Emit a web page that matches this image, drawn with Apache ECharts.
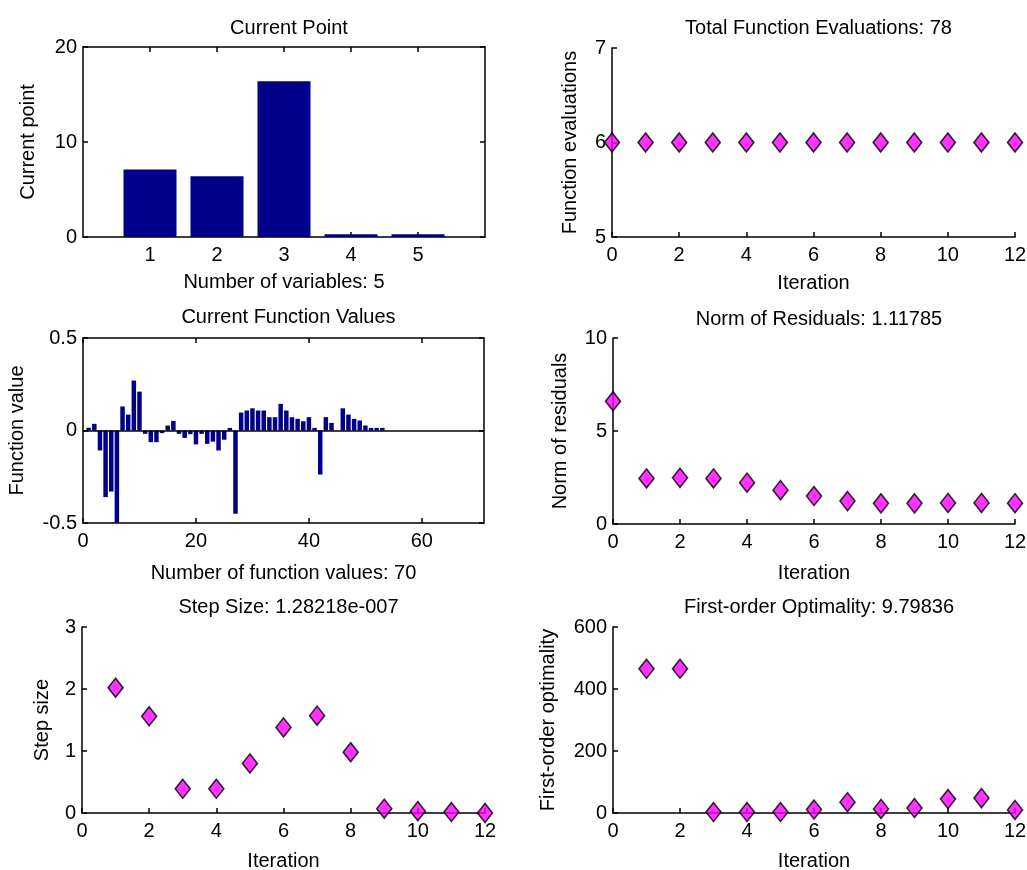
<!DOCTYPE html>
<html>
<head>
<meta charset="utf-8">
<script src="https://cdn.jsdelivr.net/npm/echarts@6/dist/echarts.min.js"></script>
<style>
html,body{margin:0;padding:0;background:#fff;}
#c{width:1027px;height:870px;}
</style>
</head>
<body>
<div id="c"></div>
<script>
// ---------- data ----------
const varIndex = [1, 2, 3, 4, 5];
const currentPoint = [7.1, 6.4, 16.4, 0.3, 0.3];

const iterAll = [0, 1, 2, 3, 4, 5, 6, 7, 8, 9, 10, 11, 12];
const funcEvals = [6, 6, 6, 6, 6, 6, 6, 6, 6, 6, 6, 6, 6];
const resNorm = [6.6, 2.45, 2.48, 2.45, 2.22, 1.82, 1.5, 1.23, 1.11, 1.11, 1.13, 1.13, 1.12];

const iterFrom1 = [1, 2, 3, 4, 5, 6, 7, 8, 9, 10, 11, 12];
const stepSize = [2.02, 1.56, 0.39, 0.39, 0.8, 1.38, 1.57, 0.98, 0.07, 0.03, 0.015, 0.0];
const firstOrderOpt = [465, 465, 3, 3, 3, 11, 35, 13, 16, 45, 48, 9.8];

const fvalues = [
  0.015, 0.036, -0.108, -0.36, -0.33, -0.5, 0.13, 0.086, 0.27, 0.21,
  -0.018, -0.063, -0.063, -0.014, 0.027, 0.052, -0.018, -0.04, -0.02, -0.075,
  -0.018, -0.072, -0.06, -0.108, -0.05, 0.014, -0.45, 0.097, 0.108, 0.12,
  0.108, 0.108, 0.072, 0.072, 0.144, 0.108, 0.072, 0.063, 0.05, 0.072,
  0.014, -0.238, 0.072, 0.041, 0, 0.12, 0.086, 0.063, 0.054, 0.027,
  0.014, 0.014, 0.014, 0, 0, 0, 0, 0, 0, 0,
  0, 0, 0, 0, 0, 0, 0, 0, 0, 0
];

const varTicks = [1, 2, 3, 4, 5];
const fvalTicks = [0, 20, 40, 60];

const titles = [
  'Current Point',
  'Total Function Evaluations: 78',
  'Current Function Values',
  'Norm of Residuals: 1.11785',
  'Step Size: 1.28218e-007',
  'First-order Optimality: 9.79836'
];
const xNames = ['Number of variables: 5', 'Iteration', 'Number of function values: 70', 'Iteration', 'Iteration', 'Iteration'];
const yNames = ['Current point', 'Function evaluations', 'Function value', 'Norm of residuals', 'Step size', 'First-order optimality'];

// ---------- layout ----------
const FONT = 'Liberation Sans, Arial, sans-serif';
const FS = 20;
const grids = [
  {left: 83, top: 47, width: 402, height: 190},
  {left: 612, top: 48, width: 403, height: 189},
  {left: 83, top: 338, width: 401, height: 185},
  {left: 613, top: 338, width: 402, height: 186},
  {left: 82, top: 627, width: 403, height: 186},
  {left: 613, top: 627, width: 402, height: 186}
];
const titleTops = [13, 13, 302, 304, 592, 592];
const yNameGaps = [45, 32, 56, 43, 30, 55];
const xNameGaps = [35, 36, 40, 39, 38, 38];

const lineBlack = {show: true, onZero: false, lineStyle: {color: '#000', width: 1.5}};
const tickIn = {show: true, inside: true, length: 5, lineStyle: {color: '#000', width: 1.5}};
const labelStyle = {color: '#000', fontFamily: FONT, fontSize: FS};

function xAxisMain(g, min, max, interval, name, custom) {
  const a = {
    type: 'value', gridIndex: g, min: min, max: max, position: 'bottom',
    name: name, nameLocation: 'middle', nameGap: xNameGaps[g],
    nameTextStyle: {color: '#000', fontFamily: FONT, fontSize: FS},
    axisLine: lineBlack, axisTick: Object.assign({}, tickIn),
    axisLabel: Object.assign({margin: 8}, labelStyle),
    splitLine: {show: false}
  };
  if (custom) {
    a.axisLabel.customValues = custom;
    a.axisTick.customValues = custom;
  } else {
    a.interval = interval;
  }
  return a;
}
function xAxisTop(g, min, max, custom) {
  return {
    type: 'value', gridIndex: g, min: min, max: max, position: 'top',
    axisLine: lineBlack, axisTick: Object.assign({customValues: custom}, tickIn),
    axisLabel: {show: false, customValues: custom}, splitLine: {show: false}
  };
}
function yAxisMain(g, min, max, interval, name) {
  return {
    type: 'value', gridIndex: g, min: min, max: max, interval: interval, position: 'left',
    name: name, nameLocation: 'middle', nameGap: yNameGaps[g], nameRotate: 90,
    nameTextStyle: {color: '#000', fontFamily: FONT, fontSize: FS},
    axisLine: lineBlack, axisTick: tickIn,
    axisLabel: Object.assign({margin: 6}, labelStyle),
    splitLine: {show: false}
  };
}
function yAxisRight(g, min, max, interval) {
  return {
    type: 'value', gridIndex: g, min: min, max: max, interval: interval, position: 'right',
    axisLine: lineBlack, axisTick: tickIn, axisLabel: {show: false}, splitLine: {show: false}
  };
}

const xAxes = [
  xAxisMain(0, 0, 6, null, xNames[0], varTicks),       // 0
  xAxisMain(1, 0, 12, 2, xNames[1]),                   // 1
  xAxisMain(2, 0, 71, null, xNames[2], fvalTicks),     // 2
  xAxisMain(3, 0, 12, 2, xNames[3]),                   // 3
  xAxisMain(4, 0, 12, 2, xNames[4]),                   // 4
  xAxisMain(5, 0, 12, 2, xNames[5]),                   // 5
  xAxisTop(0, 0, 6, varTicks),                         // 6
  xAxisTop(2, 0, 71, fvalTicks)                        // 7
];
const yAxes = [
  yAxisMain(0, 0, 20, 10, yNames[0]),
  yAxisMain(1, 5, 7, 1, yNames[1]),
  yAxisMain(2, -0.5, 0.5, 0.5, yNames[2]),
  yAxisMain(3, 0, 10, 5, yNames[3]),
  yAxisMain(4, 0, 3, 1, yNames[4]),
  yAxisMain(5, 0, 600, 200, yNames[5]),
  yAxisRight(0, 0, 20, 10),
  yAxisRight(2, -0.5, 0.5, 0.5)
];

const BAR = '#00008B';
const diamond = {
  type: 'scatter', symbol: 'diamond', symbolSize: [15, 19], clip: false,
  itemStyle: {color: '#FF00FF', borderColor: '#000', borderWidth: 1.6},
  silent: true
};
function pairs(xs, ys) { return xs.map((x, i) => [x, ys[i]]); }

const series = [
  {type: 'bar', xAxisIndex: 0, yAxisIndex: 0, barWidth: 53, itemStyle: {color: BAR},
   data: pairs(varIndex, currentPoint), silent: true},
  Object.assign({xAxisIndex: 1, yAxisIndex: 1, data: pairs(iterAll, funcEvals)}, diamond),
  {type: 'bar', xAxisIndex: 2, yAxisIndex: 2, barWidth: 4.5, itemStyle: {color: BAR},
   data: fvalues.map((v, i) => [i + 1, v]), silent: true,
   markLine: {silent: true, symbol: 'none', label: {show: false}, animation: false,
     lineStyle: {color: '#000', type: 'solid', width: 1.5}, data: [{yAxis: 0}]}},
  Object.assign({xAxisIndex: 3, yAxisIndex: 3, data: pairs(iterAll, resNorm)}, diamond),
  Object.assign({xAxisIndex: 4, yAxisIndex: 4, data: pairs(iterFrom1, stepSize)}, diamond),
  Object.assign({xAxisIndex: 5, yAxisIndex: 5, data: pairs(iterFrom1, firstOrderOpt)}, diamond)
];

const option = {
  backgroundColor: '#fff',
  animation: false,
  title: titles.map((t, i) => ({
    text: t, left: grids[i].left + grids[i].width / 2, top: titleTops[i], textAlign: 'center',
    textStyle: {color: '#000', fontFamily: FONT, fontSize: FS, fontWeight: 'normal'}
  })),
  grid: grids.map(g => Object.assign({containLabel: false, outerBoundsMode: 'none', show: false}, g)),
  xAxis: xAxes,
  yAxis: yAxes,
  series: series
};

const chart = echarts.init(document.getElementById('c'), null, {renderer: 'canvas'});
chart.setOption(option);
</script>
</body>
</html>
